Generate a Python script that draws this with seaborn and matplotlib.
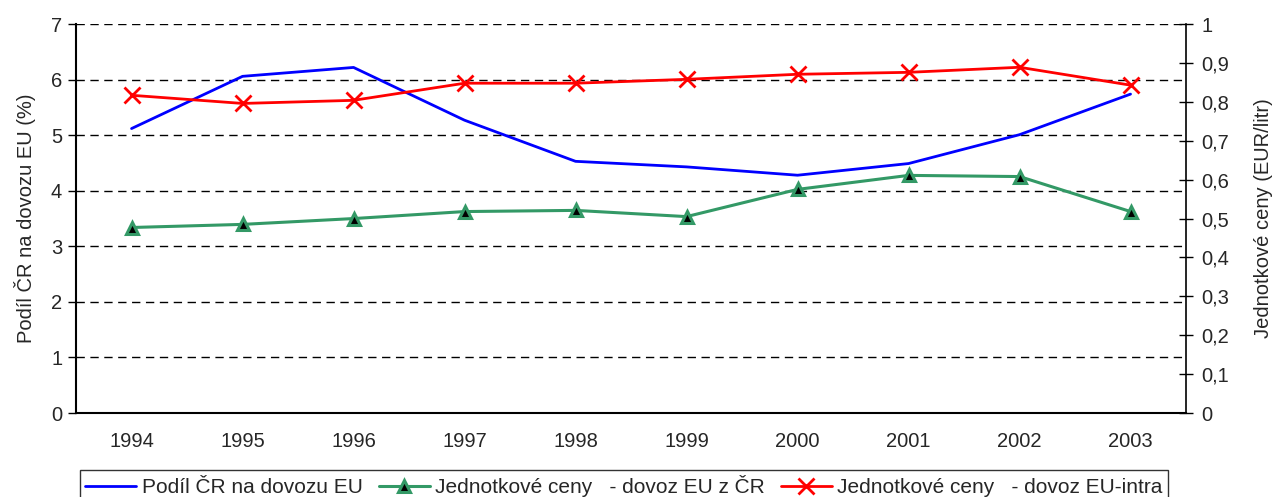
import numpy as np
import pandas as pd
import matplotlib
matplotlib.use('Agg')
import matplotlib.pyplot as plt
from matplotlib.lines import Line2D
from matplotlib.ticker import FixedLocator, FuncFormatter
import seaborn as sns

sns.set_style('white')
plt.rcParams['font.family'] = ['Liberation Sans', 'DejaVu Sans']

# data
years = ['1994', '1995', '1996', '1997', '1998', '1999', '2000', '2001', '2002', '2003']
podil_cr = [5.12, 6.06, 6.22, 5.27, 4.53, 4.43, 4.28, 4.49, 5.01, 5.74]          # %, left axis
ceny_z_cr = [0.477, 0.485, 0.500, 0.518, 0.521, 0.505, 0.575, 0.611, 0.608, 0.518]  # EUR/litr
ceny_intra = [0.817, 0.796, 0.804, 0.848, 0.848, 0.858, 0.871, 0.876, 0.889, 0.843]  # EUR/litr

lab_podil = 'Podíl ČR na dovozu EU'
lab_cr = 'Jednotkové ceny   - dovoz EU z ČR'
lab_intra = 'Jednotkové ceny   - dovoz EU-intra'

df = pd.DataFrame({'pos': np.arange(len(years)), 'rok': years,
                   'podil': podil_cr, 'cr': ceny_z_cr, 'intra': ceny_intra})

fs = 14.5
blue = '#0000FF'
green = '#339966'
red = '#FF0000'

fig = plt.figure(figsize=(12.76, 4.97), dpi=100)
ax = fig.add_axes([0.0596, 0.169, 0.8699, 0.7825])
ax2 = ax.twinx()

# left axis line
sns.lineplot(data=df, x='pos', y='podil', ax=ax, color=blue, lw=2, legend=False)

# right axis lines
sns.lineplot(data=df, x='pos', y='cr', ax=ax2, color=green, lw=2.2,
             marker='^', markersize=9, markerfacecolor='black',
             markeredgecolor=green, markeredgewidth=2.2, legend=False)
sns.lineplot(data=df, x='pos', y='intra', ax=ax2, color=red, lw=2,
             marker='x', markersize=11, markeredgecolor=red,
             markeredgewidth=2, legend=False)

ax.set_xlim(-0.5, len(years) - 0.5)
ax.set_ylim(0, 7)
ax2.set_ylim(0, 1)

# category axis: ticks between categories, labels centred
ax.xaxis.set_major_locator(FixedLocator(np.arange(-0.5, len(years), 1.0)))
ax.xaxis.set_major_formatter(FuncFormatter(lambda v, p: ''))
ax.xaxis.set_minor_locator(FixedLocator(np.arange(len(years))))
ax.set_xticklabels(years, minor=True)
ax.tick_params(axis='x', which='major', direction='out', length=6, width=1, color='black')
ax.tick_params(axis='x', which='minor', length=0, pad=14, labelsize=fs)

ax.set_yticks(range(0, 8))
ax.tick_params(axis='y', direction='out', length=6, width=1, color='black', labelsize=fs, pad=4)

ax2.set_yticks(np.arange(0, 1.01, 0.1))
ax2.yaxis.set_major_formatter(FuncFormatter(
    lambda v, p: '0' if abs(v) < 1e-9 else ('1' if abs(v - 1) < 1e-9 else f'{v:.1f}'.replace('.', ','))))
ax2.tick_params(axis='y', direction='inout', length=10, width=1, color='black', labelsize=fs, pad=6)

# dashed horizontal grid from left axis
for v in range(1, 8):
    ax.axhline(v, color='black', lw=1, ls=(0, (6, 4)), zorder=0)

for a in (ax, ax2):
    a.spines['top'].set_visible(False)
    a.set_xlabel('')
ax.spines['right'].set_visible(False)
ax2.spines['left'].set_visible(False)
ax2.spines['bottom'].set_visible(False)
ax.spines['left'].set_color('black')
ax.spines['bottom'].set_color('black')
ax2.spines['right'].set_color('black')
ax.spines['left'].set_linewidth(1.5)
ax.spines['bottom'].set_linewidth(1.5)
ax2.spines['right'].set_linewidth(1.2)

ax.set_ylabel('Podíl ČR na dovozu EU (%)', fontsize=fs, labelpad=11)
ax2.set_ylabel('Jednotkové ceny (EUR/litr)', fontsize=fs, labelpad=18)

handles = [
    Line2D([], [], color=blue, lw=2),
    Line2D([], [], color=green, lw=2.2, marker='^', markersize=9,
           markerfacecolor='black', markeredgecolor=green, markeredgewidth=2.2),
    Line2D([], [], color=red, lw=2, marker='x', markersize=11, markeredgewidth=2),
]
leg = fig.legend(handles, [lab_podil, lab_cr, lab_intra], loc='lower center',
                 bbox_to_anchor=(0.489, -0.032), ncol=3, fontsize=15,
                 frameon=True, fancybox=False, handlelength=2.45,
                 handletextpad=0.27, columnspacing=0.75, borderpad=0.25)
leg.get_frame().set_edgecolor('black')
leg.get_frame().set_linewidth(1)

fig.savefig('out.png', dpi=100)
